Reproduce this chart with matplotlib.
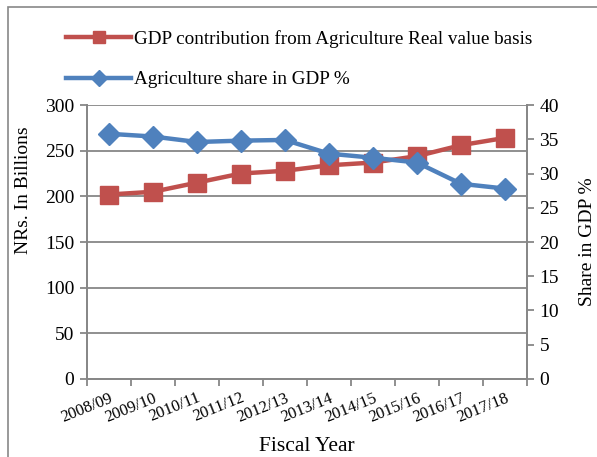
import matplotlib.pyplot as plt
from matplotlib.patches import Rectangle
from matplotlib.lines import Line2D

years = ['2008/09', '2009/10', '2010/11', '2011/12', '2012/13',
         '2013/14', '2014/15', '2015/16', '2016/17', '2017/18']
gdp_agri = [202, 205, 215, 225, 228, 234, 237, 244, 256, 264]
agri_share = [35.8, 35.4, 34.6, 34.8, 34.9, 32.9, 32.3, 31.6, 28.5, 27.8]

red = '#C0504D'
blue = '#4F81BD'
grey = '#878787'

plt.rcParams['font.family'] = 'Liberation Serif'
plt.rcParams['font.size'] = 12

fig = plt.figure(figsize=(5.97, 4.57), dpi=100)
ax = fig.add_axes([0.1457, 0.1707, 0.737, 0.5995])
ax2 = ax.twinx()

x = list(range(len(years)))
ax.plot(x, gdp_agri, color=red, lw=3.2, marker='s', ms=13)
ax2.plot(x, agri_share, color=blue, lw=3.2, marker='D', ms=11)

ax.set_xlim(-0.5, len(years) - 0.5)
ax.set_ylim(0, 300)
ax.set_yticks(range(0, 301, 50))
ax2.set_ylim(0, 40)
ax2.set_yticks(range(0, 41, 5))

ax.set_xticks([i - 0.5 for i in range(len(years) + 1)])
ax.set_xticklabels([])
ax.set_xticks(x, minor=True)
ax.set_xticklabels(years, minor=True, rotation=22, ha='right',
                   rotation_mode='anchor', fontsize=12)
ax.tick_params(axis='x', which='minor', length=0, pad=8)
ax.tick_params(axis='x', which='major', length=5, color=grey, width=1.3)
ax.tick_params(axis='y', length=5, color=grey, width=1.3, labelsize=14,
               pad=4)
ax2.tick_params(axis='y', length=5, color=grey, width=1.3, labelsize=14,
                pad=4)

ax.grid(axis='y', color=grey, lw=1.3)
ax.set_axisbelow(True)
for a in (ax, ax2):
    a.spines['top'].set_visible(False)
    for s in ('left', 'right', 'bottom'):
        a.spines[s].set_color(grey)
        a.spines[s].set_linewidth(1.3)

ax.set_ylabel('NRs. In Billions', fontsize=14)
ax.yaxis.set_label_coords(-0.125, 0.69)
ax2.set_ylabel('Share in GDP %', fontsize=14)
ax2.yaxis.set_label_coords(1.118, 0.5)
ax.set_xlabel('Fiscal Year', fontsize=15.5, labelpad=8)

handles = [
    Line2D([], [], color=red, lw=3.2, marker='s', ms=9),
    Line2D([], [], color=blue, lw=3.2, marker='D', ms=8),
]
labels = ['GDP contribution from Agriculture Real value basis',
          'Agriculture share in GDP %']
fig.legend(handles, labels, loc='upper left', bbox_to_anchor=(0.082, 0.972),
           frameon=False, fontsize=13.8, handlelength=3.4, handletextpad=0.15,
           labelspacing=1.2)

fig.patches.append(Rectangle((8 / 597, -0.05), 1.1, 1 - 7 / 457 + 0.05,
                             transform=fig.transFigure, fill=False,
                             edgecolor=grey, lw=1.2))

fig.savefig('out.png', dpi=100)
